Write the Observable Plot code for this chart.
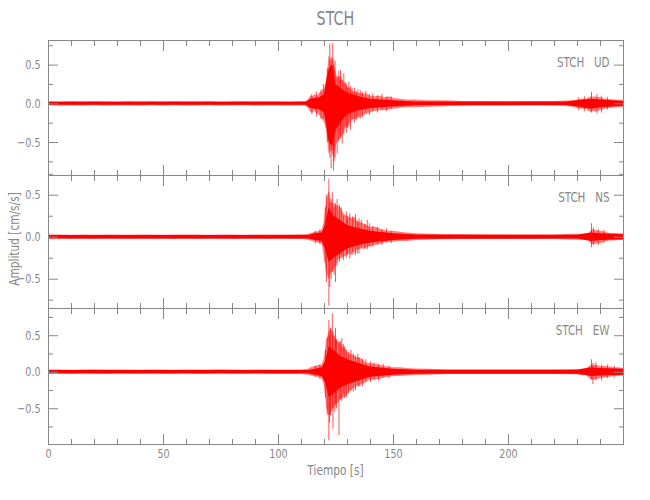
<!DOCTYPE html>
<html><head><meta charset="utf-8">
<script src="https://cdn.jsdelivr.net/npm/d3@7"></script>
<script src="https://cdn.jsdelivr.net/npm/@observablehq/plot@0.6"></script>
<style>
body{margin:0;background:#fff;}
#chart{position:relative;width:650px;height:500px;font-family:"DejaVu Sans Condensed","DejaVu Sans",sans-serif;color:#878787;}
#chart svg{position:absolute;left:0;top:0;}
.title{position:absolute;top:9px;left:48px;width:575px;text-align:center;font-size:19px;line-height:1;}
.xlab{position:absolute;top:463px;left:48px;width:575px;text-align:center;font-size:14px;line-height:1;}
.ylab{position:absolute;left:14px;top:239px;transform:translate(-50%,-50%) rotate(-90deg);font-size:14px;white-space:nowrap;line-height:1;}
.sq{display:inline-block;transform:scaleX(0.84);}
</style></head><body>
<div id="chart"><div class="title"><span class="sq">STCH</span></div><div class="xlab"><span class="sq">Tiempo [s]</span></div><div class="ylab"><span class="sq">Amplitud [cm/s/s]</span></div></div>
<script>
// ---- data: [time s, upper value, lower value] ----
// outer envelope of each trace
const udEnvelope = [
 [0,.028,-.025],[5,.025,-.03],[10,.03,-.027],[15,.026,-.03],[20,.03,-.026],[25,.028,-.03],[30,.025,-.028],[35,.03,-.027],[40,.027,-.03],[45,.03,-.026],
 [50,.027,-.03],[55,.03,-.026],[60,.026,-.03],[65,.028,-.027],[70,.03,-.025],[75,.025,-.03],[80,.027,-.028],[85,.03,-.026],[90,.026,-.03],[95,.028,-.027],
 [100,.028,-.027],[105,.025,-.03],[110,.03,-.028],[112,.03,-.03],[113,.05,-.06],
 [114,.1,-.11],[115,.09,-.12],[116,.12,-.1],[117,.1,-.13],[118,.14,-.15],[119,.16,-.2],[120,.2,-.24],[121,.3,-.35],[122,.62,-.65],[123,.55,-.6],
 [124,.6,-.7],[125,.38,-.55],[126,.33,-.48],[127,.36,-.45],[128,.3,-.4],[129,.26,-.33],[130,.22,-.3],[131,.2,-.25],[132,.17,-.22],[133,.15,-.2],
 [134,.16,-.2],[135,.13,-.18],[136,.14,-.17],[137,.12,-.15],[138,.13,-.14],[139,.11,-.13],[140,.1,-.12],
 [142,.09,-.1],[144,.1,-.09],[146,.08,-.09],[148,.09,-.08],[150,.07,-.07],[153,.06,-.06],[156,.05,-.05],[160,.05,-.05],[165,.04,-.045],[170,.04,-.04],
 [175,.035,-.035],[180,.03,-.03],[190,.03,-.03],[200,.028,-.03],[210,.03,-.028],[220,.03,-.03],[225,.035,-.035],
 [228,.04,-.045],[230,.05,-.06],[232,.06,-.07],[234,.06,-.07],[235,.08,-.1],[236,.09,-.11],[237,.085,-.1],[238,.09,-.11],[239,.08,-.1],[240,.085,-.09],
 [241,.07,-.08],[242,.06,-.07],[244,.055,-.06],[246,.05,-.055],[248,.045,-.05],[250,.045,-.05]
];
// dense (solid) core of each trace
const udCore = [
 [0,.02,-.02],[112,.02,-.02],[114,.06,-.06],[118,.08,-.08],[120,.12,-.12],[121,.3,-.3],[122,.45,-.5],[123.5,.5,-.55],[125,.25,-.35],[127,.2,-.25],
 [130,.14,-.14],[135,.09,-.09],[140,.06,-.06],[150,.04,-.04],[160,.025,-.025],[225,.022,-.022],[230,.04,-.04],[236,.06,-.07],[240,.05,-.05],[250,.03,-.03]
];
// individual peaks
const udSpikes = [
 [114.5,.12,-.14],[116.5,.15,-.17],[118.5,.18,-.2],[119.5,.25,-.2],[121.2,.45,-.5],[122.3,.77,-.7],[122.9,.6,-.84],[123.6,.78,-.6],[123.9,.5,-.87],
 [124.2,.45,-.75],[124.6,.55,-.7],[125.5,.35,-.65],[126.2,.42,-.5],[126.8,.3,-.42],[127,.43,-.45],[127.7,.3,-.52],[128.4,.39,-.4],[129,.28,-.3],
 [129.5,.25,-.38],[130,.2,-.32],[130.6,.28,-.3],[131.3,.22,-.34],[132,.2,-.2],[133,.2,-.25],[133.8,.14,-.22],[134.5,.18,-.15],[135.5,.17,-.2],
 [136.5,.15,-.18],[138,.16,-.12],[139.5,.12,-.15],[141,.13,-.1],[143,.1,-.12],[145,.12,-.08],[147,.08,-.1],[149,.09,-.07],
 [230.5,.08,-.09],[233,.09,-.1],[236.1,.15,-.12],[238.5,.12,-.13],[240.5,.1,-.12],[243,.08,-.08]
];
const nsEnvelope = [
 [0,.025,-.025],[5,.027,-.022],[10,.024,-.026],[15,.026,-.024],[20,.023,-.027],[25,.027,-.025],[30,.025,-.023],[35,.024,-.027],[40,.027,-.024],[45,.025,-.026],
 [50,.023,-.025],[55,.026,-.027],[60,.025,-.024],[65,.027,-.026],[70,.024,-.025],[75,.026,-.023],[80,.025,-.027],[85,.023,-.025],[90,.027,-.024],[95,.025,-.026],
 [100,.026,-.025],[105,.025,-.027],[110,.028,-.026],
 [112,.03,-.03],[114,.04,-.045],[116,.06,-.06],[118,.07,-.075],[119,.08,-.08],[120,.2,-.25],[121,.45,-.45],[122,.55,-.5],[123,.42,-.42],[124,.4,-.42],
 [125,.38,-.35],[126,.37,-.27],[127,.35,-.26],[128,.3,-.25],[129,.26,-.23],[130,.25,-.22],[131,.24,-.2],[132,.22,-.22],[133,.24,-.2],[134,.2,-.16],
 [135,.18,-.15],[136,.17,-.14],[137,.16,-.14],[138,.15,-.13],[139,.13,-.12],[140,.12,-.12],[142,.12,-.1],[144,.1,-.09],[146,.08,-.07],[148,.07,-.06],
 [150,.07,-.06],[153,.06,-.05],[156,.05,-.05],[160,.04,-.04],[165,.035,-.035],[170,.03,-.03],[180,.028,-.027],[190,.026,-.027],[200,.027,-.025],
 [210,.025,-.027],[220,.027,-.026],[228,.035,-.035],[232,.035,-.035],[235,.04,-.04],[236,.08,-.08],[237,.09,-.09],[238,.08,-.08],[240,.07,-.08],
 [242,.06,-.06],[244,.045,-.045],[246,.045,-.045],[248,.04,-.04],[250,.04,-.04]
];
const nsCore = [
 [0,.02,-.02],[113,.02,-.02],[116,.04,-.04],[119,.05,-.05],[120.5,.15,-.15],[122,.35,-.3],[124,.25,-.25],[127,.2,-.2],[130,.14,-.14],[135,.1,-.1],
 [140,.07,-.07],[150,.04,-.04],[160,.025,-.025],[230,.022,-.022],[236,.05,-.05],[240,.04,-.04],[250,.03,-.03]
];
const nsSpikes = [
 [116,.07,-.08],[118,.09,-.09],[120.3,.35,-.3],[120.8,.5,-.54],[121.9,.69,-.82],[122.3,.4,-.6],[122.9,.45,-.5],[123.4,.53,-.4],[124.2,.35,-.45],
 [124.8,.4,-.54],[125.5,.45,-.35],[126.5,.38,-.3],[127.3,.35,-.22],[128.2,.25,-.28],[129.5,.3,-.25],[130,.22,-.2],[131,.28,-.26],[132.2,.24,-.18],
 [133.5,.27,-.22],[134.3,.18,-.2],[135,.22,-.2],[136,.2,-.13],[137.5,.15,-.15],[138.6,.2,-.15],[139.5,.16,-.11],[141,.13,-.12],[143,.12,-.09],
 [145,.09,-.1],[147,.1,-.07],[149,.07,-.08],[236.1,.16,-.126],[237,.11,-.1],[239,.09,-.1],[241.5,.08,-.07]
];
const ewEnvelope = [
 [0,.03,-.03],[5,.032,-.028],[10,.028,-.032],[15,.03,-.029],[20,.033,-.03],[25,.029,-.032],[30,.03,-.028],[35,.032,-.03],[40,.028,-.031],[45,.031,-.029],
 [50,.03,-.032],[55,.028,-.03],[60,.032,-.028],[65,.03,-.031],[70,.029,-.03],[75,.033,-.029],[80,.03,-.03],[85,.028,-.032],[90,.031,-.029],[95,.03,-.03],
 [100,.029,-.031],[105,.03,-.03],[110,.032,-.03],
 [113,.04,-.04],[115,.07,-.06],[117,.09,-.07],[119,.1,-.09],[120,.2,-.2],[121,.45,-.5],[122,.55,-.6],[123,.6,-.55],[124,.5,-.5],[125,.45,-.45],
 [126,.42,-.42],[127,.4,-.38],[128,.35,-.36],[129,.32,-.34],[130,.27,-.3],[131,.25,-.27],[132,.24,-.25],[133,.23,-.22],[134,.2,-.2],[135,.2,-.2],
 [136,.18,-.18],[137,.16,-.16],[138,.13,-.15],[139,.12,-.12],[140,.12,-.11],[142,.11,-.11],[144,.1,-.1],[146,.08,-.08],[148,.07,-.07],[150,.06,-.06],
 [153,.06,-.06],[156,.05,-.05],[160,.045,-.045],[165,.04,-.04],[170,.035,-.035],[175,.03,-.03],[180,.03,-.03],[190,.031,-.029],[200,.029,-.03],
 [210,.03,-.031],[220,.031,-.03],[228,.035,-.035],[232,.04,-.04],[234,.045,-.045],[235,.07,-.08],[236,.1,-.11],[237,.09,-.11],[238,.1,-.1],
 [239,.09,-.1],[240,.08,-.09],[242,.08,-.08],[244,.07,-.07],[246,.06,-.06],[248,.06,-.06],[250,.05,-.05]
];
const ewCore = [
 [0,.022,-.022],[113,.022,-.022],[116,.04,-.04],[119,.06,-.06],[120.5,.15,-.15],[122,.35,-.35],[124,.3,-.3],[127,.22,-.22],[130,.17,-.17],[135,.12,-.12],
 [140,.07,-.07],[150,.04,-.04],[160,.028,-.028],[230,.028,-.028],[236,.06,-.06],[240,.05,-.05],[250,.04,-.04]
];
const ewSpikes = [
 [116,.08,-.07],[118,.1,-.1],[120.4,.3,-.35],[121.2,.46,-.59],[121.9,.71,-.94],[122.2,.5,-.7],[122.6,.6,-.6],[123.4,.8,-.5],[123.7,.55,-.78],
 [124.5,.5,-.55],[124.8,.6,-.45],[125.2,.45,-.5],[126.3,.4,-.87],[126.9,.42,-.38],[127.5,.46,-.4],[128.2,.38,-.3],[128.8,.35,-.36],[129.5,.3,-.35],
 [130.5,.27,-.3],[131.5,.3,-.25],[132.5,.25,-.27],[133.5,.22,-.25],[134.5,.25,-.18],[135,.2,-.2],[136.5,.18,-.2],[138,.17,-.13],[140,.14,-.14],
 [141.5,.13,-.1],[143.5,.1,-.12],[145.5,.11,-.08],[148,.08,-.09],[236.1,.17,-.1],[236.7,.12,-.17],[238,.13,-.12],[240.5,.1,-.12],[243,.1,-.09],[246,.08,-.08]
];
const stationName = "STCH";
const components = ["UD", "NS", "EW"];
const xDomain = [0, 250];
const xMajorTicks = [0, 50, 100, 150, 200];
const xMinorTicks = [10, 20, 30, 40, 60, 70, 80, 90, 110, 120, 130, 140, 160, 170, 180, 190, 210, 220, 230, 240];
const yMajorTicks = [-0.5, 0, 0.5];
const yMinorTicks = [-0.75, -0.25, 0.25, 0.75];
const yDomains = [[-0.926, 0.818], [-0.849, 0.735], [-0.99, 0.873]];

// ---- layout ----
const W = 650, H = 500, left = 48, right = 623;
const panelTops = [40, 175, 308], panelBottoms = [175, 308, 444];
const gray = "#878787";
const red = "#ff0000";
const fontFamily = '"DejaVu Sans Condensed","DejaVu Sans",sans-serif';
const rowsOf = a => a.map(([t, hi, lo]) => ({t, hi, lo}));

function panel(env, core, spikes, comp, i) {
  const top = panelTops[i], bottom = panelBottoms[i], last = i === 2;
  const none = () => "";
  return Plot.plot({
    width: W, height: H,
    marginLeft: left, marginRight: W - right, marginTop: top, marginBottom: H - bottom,
    x: {domain: xDomain},
    y: {domain: yDomains[i]},
    style: {background: "transparent", color: gray, fontFamily, fontSize: "13px", overflow: "visible"},
    marks: [
      Plot.areaY(rowsOf(env), {x: "t", y1: "lo", y2: "hi", fill: red, fillOpacity: 0.5, clip: true}),
      Plot.ruleX(rowsOf(spikes), {x: "t", y1: "lo", y2: "hi", stroke: red, strokeWidth: 0.9, strokeOpacity: 0.75, clip: true}),
      Plot.areaY(rowsOf(core), {x: "t", y1: "lo", y2: "hi", fill: red, clip: true}),
      Plot.frame({stroke: gray}),
      Plot.axisY(yMajorTicks, {anchor: "left", tickSize: -10, tickPadding: 18, tickFormat: d3.format(".1f"), label: null}),
      Plot.axisY(yMinorTicks, {anchor: "left", tickSize: -5, tickFormat: none, label: null}),
      Plot.axisY(yMajorTicks, {anchor: "right", tickSize: -10, tickFormat: none, label: null}),
      Plot.axisY(yMinorTicks, {anchor: "right", tickSize: -5, tickFormat: none, label: null}),
      Plot.axisX(xMajorTicks, {anchor: "bottom", tickSize: -10, tickPadding: 14, tickFormat: last ? d => String(d) : none, label: null}),
      Plot.axisX(xMinorTicks, {anchor: "bottom", tickSize: -5, tickFormat: none, label: null}),
      Plot.axisX(xMajorTicks, {anchor: "top", tickSize: -10, tickFormat: none, label: null}),
      Plot.axisX(xMinorTicks, {anchor: "top", tickSize: -5, tickFormat: none, label: null}),
      Plot.text([stationName + "\u00a0\u00a0\u00a0" + comp], {frameAnchor: "top-right", dx: -14, dy: 17, textAnchor: "end", fontSize: 14, fill: gray})
    ]
  });
}

const chart = document.getElementById("chart");
const svgs = [
  panel(udEnvelope, udCore, udSpikes, components[0], 0),
  panel(nsEnvelope, nsCore, nsSpikes, components[1], 1),
  panel(ewEnvelope, ewCore, ewSpikes, components[2], 2)
];
svgs.forEach(s => chart.append(s));
// narrow the lettering like the original's thin condensed font
svgs.forEach(s => s.querySelectorAll("text").forEach(t => {
  const L = t.getComputedTextLength();
  if (L > 0) { t.setAttribute("textLength", (L * 0.82).toFixed(1)); t.setAttribute("lengthAdjust", "spacingAndGlyphs"); }
}));
</script></body></html>
